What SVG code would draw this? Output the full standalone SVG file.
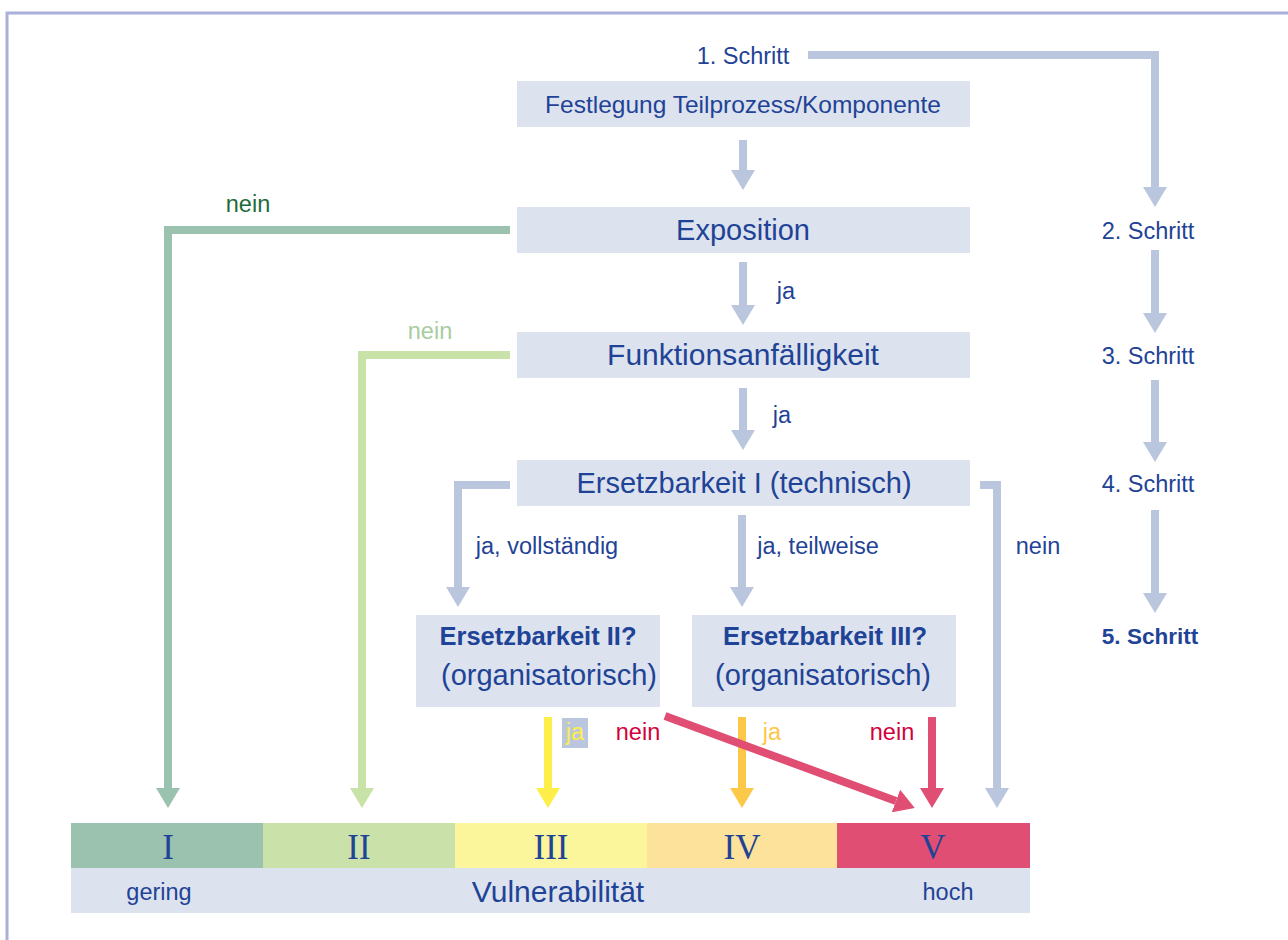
<svg xmlns="http://www.w3.org/2000/svg" width="1288" height="940" viewBox="0 0 1288 940">
<defs>
<style>
.t{font-family:"Liberation Sans",Arial,sans-serif;fill:#1f4396;text-anchor:middle}
.s{font-size:23.5px}
.box{fill:#dce2ee}
.c{fill:none;stroke-width:8;stroke-linejoin:miter}
.g{stroke:#bac6de}
.rn{font-family:"Liberation Serif",serif;fill:#1f4396;text-anchor:middle;font-size:35px}
</style>
<marker id="ag" viewBox="0 0 20 24" refX="0" refY="12" markerWidth="20" markerHeight="24" markerUnits="userSpaceOnUse" orient="auto"><path d="M0,0L20,12L0,24z" fill="#bac6de"/></marker>
<marker id="ad" viewBox="0 0 20 24" refX="0" refY="12" markerWidth="20" markerHeight="24" markerUnits="userSpaceOnUse" orient="auto"><path d="M0,0L20,12L0,24z" fill="#9bc2ae"/></marker>
<marker id="al" viewBox="0 0 20 24" refX="0" refY="12" markerWidth="20" markerHeight="24" markerUnits="userSpaceOnUse" orient="auto"><path d="M0,0L20,12L0,24z" fill="#c9e2a8"/></marker>
<marker id="ay" viewBox="0 0 20 24" refX="0" refY="12" markerWidth="20" markerHeight="24" markerUnits="userSpaceOnUse" orient="auto"><path d="M0,0L20,12L0,24z" fill="#fdee4a"/></marker>
<marker id="ao" viewBox="0 0 20 24" refX="0" refY="12" markerWidth="20" markerHeight="24" markerUnits="userSpaceOnUse" orient="auto"><path d="M0,0L20,12L0,24z" fill="#fcc84a"/></marker>
<marker id="ar" viewBox="0 0 20 24" refX="0" refY="12" markerWidth="20" markerHeight="24" markerUnits="userSpaceOnUse" orient="auto"><path d="M0,0L20,12L0,24z" fill="#e04e74"/></marker>
</defs>
<rect width="1288" height="940" fill="#ffffff"/>
<path d="M7,940V13H1288" fill="none" stroke="#aab0da" stroke-width="3"/>

<g id="connectors">
<path class="c g" d="M808,55H1155V187" marker-end="url(#ag)"/>
<path class="c g" d="M743,140V170" marker-end="url(#ag)"/>
<path class="c g" d="M743,262V305" marker-end="url(#ag)"/>
<path class="c g" d="M743,388V430" marker-end="url(#ag)"/>
<path class="c g" d="M510,485H458V587" marker-end="url(#ag)"/>
<path class="c g" d="M742,515V587" marker-end="url(#ag)"/>
<path class="c g" d="M980,485H997V788" marker-end="url(#ag)"/>
<path class="c g" d="M1155,250V313" marker-end="url(#ag)"/>
<path class="c g" d="M1155,380V442" marker-end="url(#ag)"/>
<path class="c g" d="M1155,510V593" marker-end="url(#ag)"/>
<path class="c" stroke="#9bc2ae" d="M510,230H168V788" marker-end="url(#ad)"/>
<path class="c" stroke="#c9e2a8" d="M510,355H362V788" marker-end="url(#al)"/>
<path class="c" stroke="#fdee4a" d="M548,717V788" marker-end="url(#ay)"/>
<path class="c" stroke="#fcc84a" d="M742,717V788" marker-end="url(#ao)"/>
<path class="c" stroke="#e04e74" d="M932,717V788" marker-end="url(#ar)"/>
<path class="c" stroke="#e04e74" d="M665,716L896,801" marker-end="url(#ar)"/>
<text class="t s" x="786" y="299">ja</text>
<text class="t s" x="782" y="423">ja</text>
<text class="t s" x="547" y="554">ja, vollständig</text>
<text class="t s" x="818" y="554">ja, teilweise</text>
<text class="t s" x="1038" y="554">nein</text>
<text class="t s" x="248" y="212" style="fill:#1e6b3a">nein</text>
<text class="t s" x="430" y="339" style="fill:#a8cca0">nein</text>
<rect x="562" y="718" width="26" height="30" fill="#bac6de"/>
<text class="t s" x="575" y="740" style="fill:#fdee4a">ja</text>
<text class="t s" x="638" y="740" style="fill:#d4003c">nein</text>
<text class="t s" x="772" y="740" style="fill:#fcc84a">ja</text>
<text class="t s" x="892" y="740" style="fill:#d4003c">nein</text>
</g>

<g id="step1"><text class="t s" x="743" y="64">1. Schritt</text></g>
<g id="festlegung"><rect class="box" x="517" y="81" width="453" height="46"/><text class="t" x="743" y="113" font-size="24.5">Festlegung Teilprozess/Komponente</text></g>
<g id="exposition"><rect class="box" x="517" y="207" width="453" height="46"/><text class="t" x="743" y="240" font-size="29">Exposition</text></g>
<g id="funktion"><rect class="box" x="517" y="332" width="453" height="46"/><text class="t" x="743" y="365" font-size="30">Funktionsanfälligkeit</text></g>
<g id="ersetz1"><rect class="box" x="517" y="460" width="453" height="46"/><text class="t" x="744" y="493" font-size="29">Ersetzbarkeit I (technisch)</text></g>
<g id="ersetz2"><rect class="box" x="416" y="615" width="244" height="92"/><text class="t" x="538" y="645" font-size="25.5" font-weight="bold">Ersetzbarkeit II?</text><text class="t" x="549" y="685" font-size="29">(organisatorisch)</text></g>
<g id="ersetz3"><rect class="box" x="692" y="615" width="264" height="92"/><text class="t" x="825" y="645" font-size="25.5" font-weight="bold">Ersetzbarkeit III?</text><text class="t" x="823" y="685" font-size="29">(organisatorisch)</text></g>

<g id="step2"><text class="t s" x="1148" y="239">2. Schritt</text></g>
<g id="step3"><text class="t s" x="1148" y="364">3. Schritt</text></g>
<g id="step4"><text class="t s" x="1148" y="492">4. Schritt</text></g>
<g id="step5"><text class="t" x="1150" y="644" font-size="22.5" font-weight="bold">5. Schritt</text></g>

<g id="scale">
<rect x="71" y="823" width="192" height="45" fill="#9bc2ae"/>
<rect x="263" y="823" width="192" height="45" fill="#cae2a9"/>
<rect x="455" y="823" width="192" height="45" fill="#fbf59b"/>
<rect x="647" y="823" width="190" height="45" fill="#fce29a"/>
<rect x="837" y="823" width="193" height="45" fill="#e04e74"/>
<rect x="71" y="868" width="959" height="45" fill="#dce2ee"/>
<text class="rn" x="168" y="859">I</text>
<text class="rn" x="359" y="859">II</text>
<text class="rn" x="551" y="859">III</text>
<text class="rn" x="742" y="859">IV</text>
<text class="rn" x="933" y="859">V</text>
<text class="t s" x="159" y="900">gering</text>
<text class="t" x="558" y="902" font-size="30">Vulnerabilität</text>
<text class="t s" x="948" y="900">hoch</text>
</g>
</svg>
